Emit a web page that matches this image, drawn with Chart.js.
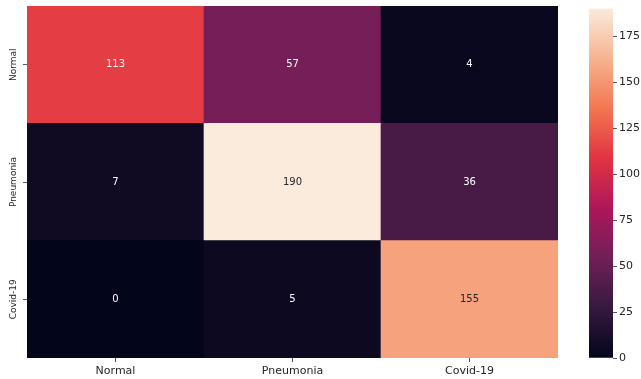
<!DOCTYPE html>
<html>
<head>
<meta charset="utf-8">
<script src="https://cdn.jsdelivr.net/npm/chart.js@4"></script>
<style>
  html, body { margin: 0; padding: 0; background: #fff; }
  #wrap { position: relative; width: 641px; height: 379px; overflow: hidden; }
  #heat { position: absolute; left: 0; top: 0; width: 575px; height: 379px; }
  #cbar { position: absolute; left: 575px; top: 0; width: 66px; height: 379px; }
</style>
</head>
<body>
<div id="wrap">
  <div id="heat"><canvas id="heatCanvas"></canvas></div>
  <div id="cbar"><canvas id="cbarCanvas"></canvas></div>
</div>
<script>
// Confusion matrix: rows = true class, columns = predicted class
const predictedLabels = ['Normal', 'Pneumonia', 'Covid-19'];
const actualLabels = ['Normal', 'Pneumonia', 'Covid-19'];
const rowNormal = [113, 57, 4];
const rowPneumonia = [7, 190, 36];
const rowCovid = [0, 5, 155];
const colorbarTicks = [0, 25, 50, 75, 100, 125, 150, 175];

const matrix = [rowNormal, rowPneumonia, rowCovid];
const vmin = 0;
const vmax = Math.max(...matrix.flat());

// "rocket" colormap anchor colours
const rocketStops = [
  [0 / 7, [3, 5, 26]],
  [1 / 7, [53, 25, 62]],
  [2 / 7, [112, 31, 87]],
  [3 / 7, [173, 23, 89]],
  [4 / 7, [225, 51, 66]],
  [5 / 7, [243, 118, 81]],
  [6 / 7, [246, 180, 143]],
  [7 / 7, [250, 235, 221]]
];

function rocketRGB(t) {
  t = Math.max(0, Math.min(1, t));
  for (let i = 1; i < rocketStops.length; i++) {
    const [t1, c1] = rocketStops[i];
    const [t0, c0] = rocketStops[i - 1];
    if (t <= t1) {
      const f = (t - t0) / (t1 - t0);
      return c0.map((c, k) => Math.round(c + (c1[k] - c) * f));
    }
  }
  return rocketStops[rocketStops.length - 1][1];
}
const rocketCss = t => { const c = rocketRGB(t); return `rgb(${c[0]},${c[1]},${c[2]})`; };
const norm = v => (v - vmin) / (vmax - vmin);

function textColorFor(v) {
  const lin = rocketRGB(norm(v)).map(c => {
    c /= 255;
    return c <= 0.03928 ? c / 12.92 : Math.pow((c + 0.055) / 1.055, 2.4);
  });
  const lum = 0.2126 * lin[0] + 0.7152 * lin[1] + 0.0722 * lin[2];
  return lum > 0.408 ? '#262626' : '#ffffff';
}

const tickFontColor = '#262626';
const tickMarkColor = '#555555';

// Writes each cell's count in its centre
const cellLabels = {
  id: 'cellLabels',
  afterDatasetsDraw(chart) {
    const ctx = chart.ctx;
    ctx.save();
    ctx.font = '10px "DejaVu Sans"';
    ctx.textAlign = 'center';
    ctx.textBaseline = 'middle';
    chart.data.datasets.forEach((ds, di) => {
      chart.getDatasetMeta(di).data.forEach((bar, j) => {
        const v = ds.data[j].v;
        ctx.fillStyle = textColorFor(v);
        ctx.fillText(String(v), bar.x, (bar.y + bar.base) / 2);
      });
    });
    ctx.restore();
  }
};

// One stacked dataset per true-class row, bottom row first
const rowOrder = actualLabels.map((_, i) => i).reverse();
const heatDatasets = rowOrder.map(i => ({
  label: actualLabels[i],
  data: matrix[i].map((v, j) => ({ x: predictedLabels[j], y: 1, v })),
  backgroundColor: ctx => rocketCss(norm(ctx.raw.v)),
  borderWidth: 0,
  barPercentage: 1,
  categoryPercentage: 1
}));
const rowCenters = rowOrder.map((_, k) => k + 0.5);

new Chart(document.getElementById('heatCanvas'), {
  type: 'bar',
  data: { labels: predictedLabels, datasets: heatDatasets },
  options: {
    responsive: true,
    maintainAspectRatio: false,
    animation: false,
    devicePixelRatio: 1,
    layout: { padding: { top: 6, right: 17, left: 0, bottom: 0 } },
    plugins: { legend: { display: false }, tooltip: { enabled: false } },
    scales: {
      x: {
        stacked: true,
        grid: { display: true, drawOnChartArea: false, drawTicks: true, tickLength: 4, offset: false, color: tickMarkColor },
        border: { display: false },
        ticks: { font: { family: 'DejaVu Sans', size: 11 }, color: tickFontColor, padding: 3 },
        afterFit(s) { s.height = 21; }
      },
      y: {
        stacked: true,
        min: 0,
        max: actualLabels.length,
        afterBuildTicks(s) { s.ticks = rowCenters.map(v => ({ value: v })); },
        grid: { display: true, drawOnChartArea: false, drawTicks: true, tickLength: 4, color: tickMarkColor },
        border: { display: false },
        ticks: {
          minRotation: 90,
          maxRotation: 90,
          crossAlign: 'center',
          padding: -16,
          font: { family: 'DejaVu Sans', size: 9 },
          color: tickFontColor,
          callback: (v, i) => actualLabels[rowOrder[i]]
        },
        afterFit(s) { s.width = 27; }
      }
    }
  },
  plugins: [cellLabels]
});

// Colour bar: one bar spanning the full value range, filled with the colormap
new Chart(document.getElementById('cbarCanvas'), {
  type: 'bar',
  data: {
    labels: [''],
    datasets: [{
      data: [vmax],
      borderWidth: 0,
      barPercentage: 1,
      categoryPercentage: 1,
      backgroundColor: ctx => {
        const a = ctx.chart.chartArea;
        if (!a) return rocketCss(0.5);
        const g = ctx.chart.ctx.createLinearGradient(0, a.bottom, 0, a.top);
        for (let k = 0; k <= 56; k++) g.addColorStop(k / 56, rocketCss(k / 56));
        return g;
      }
    }]
  },
  options: {
    responsive: true,
    maintainAspectRatio: false,
    animation: false,
    devicePixelRatio: 1,
    layout: { padding: { top: 6, right: 0, left: 14, bottom: 21 } },
    plugins: { legend: { display: false }, tooltip: { enabled: false } },
    scales: {
      x: { display: false },
      y: {
        position: 'right',
        min: vmin,
        max: vmax,
        afterBuildTicks(s) { s.ticks = colorbarTicks.map(v => ({ value: v })); },
        grid: { display: true, drawOnChartArea: false, drawTicks: true, tickLength: 4, color: tickMarkColor },
        border: { display: false },
        ticks: { font: { family: 'DejaVu Sans', size: 11 }, color: tickFontColor, padding: 2 },
        afterFit(s) { s.width = 28; }
      }
    }
  }
});
</script>
</body>
</html>
